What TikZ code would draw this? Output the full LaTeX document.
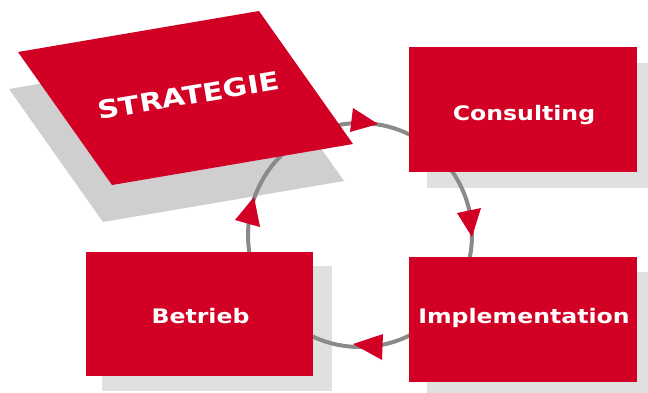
\documentclass[tikz,border=0pt]{standalone}
\usepackage{fontspec}
\newfontfamily\techfont[FakeStretch=1.18]{DejaVu Sans}
\newfontfamily\stratfont{DejaVu Sans}
\definecolor{brandred}{HTML}{D20024}
\definecolor{shadowA}{HTML}{CFCFCF}
\definecolor{shadowB}{HTML}{E0E0E0}
\definecolor{ringgray}{HTML}{8A8A8A}
\begin{document}
\begin{tikzpicture}[x=1pt,y=-1pt,
  redbox/.style={fill=brandred, draw=none, inner sep=0pt, minimum width=228pt, minimum height=125pt, anchor=north west},
  shadowbox/.style={fill=shadowB},
  boxtext/.style={text=white, font=\techfont\bfseries\fontsize{20}{24}\selectfont, inner sep=0pt, anchor=base},
  stratext/.style={text=white, font=\stratfont\bfseries\fontsize{25}{30}\selectfont, inner sep=0pt, anchor=base},
  tiptri/.style={fill=brandred},
  ring/.style={draw=ringgray, line width=4pt}]
\useasboundingbox (0,0) rectangle (648,392);
% shadows
\fill[shadowA] (9,89) -- (250,48) -- (344,181) -- (103,222) -- cycle;
\fill[shadowbox] (427,63) rectangle (655,188);
\fill[shadowbox] (427,272) rectangle (655,398);
\fill[shadowbox] (102,266) rectangle (332,391);
% cycle ring
\coordinate (ctr) at (360,235);
\draw[ring] (ctr) circle[radius=112];
% strategie
\fill[brandred] (18,52) -- (259,11) -- (353,144) -- (112,185) -- cycle;
% boxes
\node[redbox] (cons) at (409,47) {};
\node[redbox] (impl) at (409,257) {};
\node[redbox, minimum width=227pt, minimum height=124pt] (betr) at (86,252) {};
% labels
\node[stratext, rotate=9.6] (stratT) at (190,104.5) {\scalebox{1.2}[1]{STRATEGIE}};
\node[boxtext] (consT) at (524,120) {Consulting};
\node[boxtext] (implT) at (524,323) {Implementation};
\node[boxtext] (betrT) at (200.5,323) {Betrieb};
% arrowheads
\fill[tiptri] (378,124) -- (353,108) -- (350,132) -- cycle;
\fill[tiptri] (472,237) -- (457,213) -- (481,208) -- cycle;
\fill[tiptri] (353,344) -- (383,334) -- (382,360) -- cycle;
\fill[tiptri] (254,197) -- (235,220) -- (260,227) -- cycle;
\end{tikzpicture}
\end{document}
